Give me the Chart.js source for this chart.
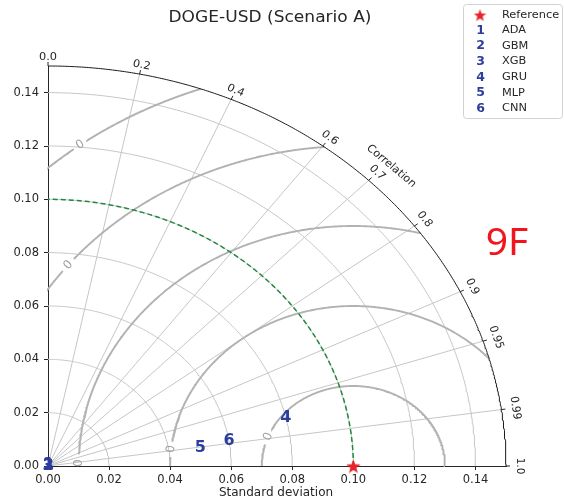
<!DOCTYPE html>
<html>
<head>
<meta charset="utf-8">
<script src="https://cdn.jsdelivr.net/npm/chart.js@4.4.1/dist/chart.umd.min.js"></script>
<style>
  html, body { margin: 0; padding: 0; background: #fff; }
  #wrap { width: 564px; height: 499px; }
</style>
</head>
<body>
<div id="wrap"><canvas id="chart" width="564" height="499"></canvas></div>
<script>
const title = 'DOGE-USD (Scenario A)';
const panelTag = '9F';
const modelNames = ['ADA', 'GBM', 'XGB', 'GRU', 'MLP', 'CNN'];
const modelStd = [0.0003, 0.0002, 0.0001, 0.0800, 0.0503, 0.0600];
const modelCorr = [0.50, 0.45, 0.40, 0.974, 0.991, 0.988];
const refStd = 0.10;
const stdMax = 0.15;
const stdTicks = [0, 0.02, 0.04, 0.06, 0.08, 0.10, 0.12, 0.14];
const stdRings = [0.02, 0.04, 0.06, 0.08, 0.10, 0.12, 0.14];
const corrTicks = [0.0, 0.2, 0.4, 0.6, 0.7, 0.8, 0.9, 0.95, 0.99, 1.0];
const corrTickLabels = ['0.0', '0.2', '0.4', '0.6', '0.7', '0.8', '0.9', '0.95', '0.99', '1.0'];
const corrGrid = [0.2, 0.4, 0.6, 0.7, 0.8, 0.9, 0.95, 0.99];
const rmsLevels = [0.03, 0.06, 0.09, 0.12, 0.15];
const rmsLabelDeg = [158.5, 173.9, 179.3, 141.1, 126.6];

const BLUE = '#2c3e9c';
const RED = '#e8232a';
const INK = '#262626';
const rad = d => d * Math.PI / 180;

Chart.defaults.font.family = 'DejaVu Sans';

function ringPoints(r, cx = 0, from = 0, to = Math.PI / 2, steps = 180) {
  const pts = [];
  for (let i = 0; i <= steps; i++) {
    const a = from + (to - from) * i / steps;
    pts.push({ x: cx + r * Math.cos(a), y: r * Math.sin(a) });
  }
  return pts;
}

// part of an RMS circle (around the reference) that stays inside the quarter disc
function rmsSpan(r) {
  let from = 0, to = Math.PI;
  if (refStd + r > stdMax) {
    const xi = (refStd * refStd - r * r + stdMax * stdMax) / (2 * refStd);
    from = Math.atan2(Math.sqrt(stdMax * stdMax - xi * xi), xi - refStd);
  }
  if (r > refStd) to = Math.acos(-refStd / r);
  return [from, to];
}

function rmsLabelPixel(chart, i) {
  const a = rad(rmsLabelDeg[i]), r = rmsLevels[i];
  return [chart.scales.x.getPixelForValue(refStd + r * Math.cos(a)),
          chart.scales.y.getPixelForValue(r * Math.sin(a))];
}

function nearLabel(ctx, i) {
  const [lx, ly] = rmsLabelPixel(ctx.chart, i);
  const mx = (ctx.p0.x + ctx.p1.x) / 2, my = (ctx.p0.y + ctx.p1.y) / 2;
  return Math.hypot(mx - lx, my - ly) < 8;
}

function starImage(size, color) {
  const c = document.createElement('canvas');
  c.width = c.height = size;
  const g = c.getContext('2d');
  const R = size / 2, r = R * 0.42;
  g.beginPath();
  for (let k = 0; k < 10; k++) {
    const rr = k % 2 ? r : R;
    const a = -Math.PI / 2 + k * Math.PI / 5;
    g.lineTo(R + rr * Math.cos(a), R + rr * Math.sin(a) + size * 0.06);
  }
  g.closePath();
  g.fillStyle = color;
  g.fill();
  return c;
}
const starPlot = starImage(15, RED);
const starLegend = starImage(13, RED);

function text(ctx, str, x, y, font, color, opts = {}) {
  ctx.save();
  ctx.translate(x, y);
  ctx.scale(opts.sx || 1, 1);
  ctx.rotate(opts.rot || 0);
  ctx.font = font;
  ctx.fillStyle = color;
  ctx.textAlign = opts.align || 'center';
  ctx.textBaseline = opts.base || 'middle';
  ctx.fillText(str, 0, 0);
  ctx.restore();
}

const line = (data, color, width, order, extra = {}) => Object.assign({
  data, showLine: true, pointRadius: 0, borderColor: color, borderWidth: width,
  order, clip: false, tension: 0, fill: false
}, extra);

const datasets = [];
stdRings.forEach(r => datasets.push(line(ringPoints(r), '#c6c6c6', 1, 6)));
corrGrid.forEach(c => datasets.push(line(
  [{ x: 0, y: 0 }, { x: stdMax * c, y: stdMax * Math.sqrt(1 - c * c) }], '#c6c6c6', 1, 6)));
rmsLevels.forEach((r, i) => {
  const [a0, a1] = rmsSpan(r);
  datasets.push(line(ringPoints(r, refStd, a0, a1, 300), '#b2b2b2', 1.9, 5, {
    segment: { borderColor: ctx => nearLabel(ctx, i) ? 'rgba(0,0,0,0)' : '#b2b2b2' }
  }));
});
datasets.push(line(ringPoints(refStd), '#1f8a3c', 1.5, 4, { borderDash: [5, 3] }));
datasets.push(line(ringPoints(stdMax, 0, 0, Math.PI / 2, 300), '#1a1a1a', 1, 3));
datasets.push({ data: [{ x: refStd, y: 0 }], pointStyle: starPlot, pointRadius: 7, order: 2, clip: false, showLine: false });
const modelSet = datasets.length;
datasets.push({
  data: modelStd.map((s, i) => ({ x: s * modelCorr[i], y: s * Math.sqrt(1 - modelCorr[i] ** 2) })),
  pointRadius: 0, showLine: false, order: 1, clip: false
});

const decor = {
  id: 'decor',
  afterDatasetsDraw(chart) {
    const { ctx, scales: { x, y } } = chart;
    const kx = x.getPixelForValue(1) - x.getPixelForValue(0);
    const ky = y.getPixelForValue(0) - y.getPixelForValue(1);

    // RMS contour labels, written along the curve
    rmsLevels.forEach((r, i) => {
      const a = rad(rmsLabelDeg[i]);
      const [lx, ly] = rmsLabelPixel(chart, i);
      let rot = Math.atan2(-Math.cos(a) * ky, -Math.sin(a) * kx);
      if (rot > Math.PI / 2) rot -= Math.PI;
      if (rot < -Math.PI / 2) rot += Math.PI;
      text(ctx, '0', lx, ly, '12px "DejaVu Sans"', '#a2a2a2', { rot });
    });

    // correlation ticks on the outer arc
    corrTicks.forEach((c, i) => {
      const th = Math.acos(c);
      const px = x.getPixelForValue(stdMax * c), py = y.getPixelForValue(stdMax * Math.sin(th));
      let ux = Math.cos(th) * kx, uy = -Math.sin(th) * ky;
      const n = Math.hypot(ux, uy); ux /= n; uy /= n;
      ctx.save();
      ctx.strokeStyle = INK; ctx.lineWidth = 1;
      ctx.beginPath(); ctx.moveTo(px, py); ctx.lineTo(px + 4 * ux, py + 4 * uy); ctx.stroke();
      ctx.restore();
      const d = 9 + 5 * c * c;
      text(ctx, corrTickLabels[i], px + d * ux, py + d * uy, '10.5px "DejaVu Sans"', INK,
        { rot: Math.PI / 2 - th, sx: 1.08 });
    });
    const ca = rad(45), cr = 0.159;
    text(ctx, 'Correlation', x.getPixelForValue(cr * Math.cos(ca)), y.getPixelForValue(cr * Math.sin(ca)),
      '10.5px "DejaVu Sans"', INK, { rot: rad(42), sx: 1.08 });

    // model numerals
    const meta = chart.getDatasetMeta(modelSet);
    meta.data.forEach((pt, i) => {
      text(ctx, String(i + 1), pt.x, pt.y, 'bold 16px "DejaVu Sans"', BLUE);
    });
  },
  afterDraw(chart) {
    const { ctx } = chart;
    text(ctx, title, 270, 18, '15.5px "DejaVu Sans"', INK, { sx: 1.1 });
    text(ctx, 'Standard deviation', 276, 493, '12px "DejaVu Sans"', INK);
    text(ctx, panelTag, 507, 255, '39px "Noto Sans"', '#f0151f', { base: 'alphabetic' });

    // legend
    ctx.save();
    ctx.fillStyle = 'rgba(255,255,255,0.9)';
    ctx.strokeStyle = '#d2d2d2';
    ctx.lineWidth = 1;
    ctx.beginPath();
    ctx.roundRect(463.5, 4.5, 99, 114, 3);
    ctx.fill(); ctx.stroke();
    ctx.drawImage(starLegend, 480 - 6.5, 15 - 6.5, 13, 13);
    ctx.restore();
    const rowY = [15, 30.5, 46, 61.7, 77.3, 93, 108.5];
    text(ctx, 'Reference', 502, rowY[0], '10.5px "DejaVu Sans"', INK, { align: 'left', sx: 1.08 });
    modelNames.forEach((name, i) => {
      text(ctx, String(i + 1), 480.5, rowY[i + 1], 'bold 12.5px "DejaVu Sans"', BLUE);
      text(ctx, name, 502, rowY[i + 1], '10.5px "DejaVu Sans"', INK, { align: 'left', sx: 1.08 });
    });
  }
};

const axis = (fit, pad) => ({
  type: 'linear', min: 0, max: stdMax,
  afterBuildTicks: s => { s.ticks = stdTicks.map(v => ({ value: v })); },
  afterFit: fit,
  grid: { drawOnChartArea: false, drawTicks: true, tickLength: 4, color: INK },
  border: { display: true, color: INK, width: 1 },
  ticks: { autoSkip: false, maxRotation: 0, color: INK, font: { size: 11.5 }, padding: pad,
           callback: v => v.toFixed(2) }
});

new Chart(document.getElementById('chart'), {
  type: 'scatter',
  data: { datasets },
  options: {
    responsive: false,
    animation: false,
    devicePixelRatio: 1,
    events: [],
    layout: { padding: { top: 66, right: 58, left: 0, bottom: 0 } },
    plugins: { legend: { display: false }, tooltip: { enabled: false } },
    scales: {
      x: axis(s => { s.height = 33; }, 3),
      y: axis(s => { s.width = 48; }, 5)
    }
  },
  plugins: [decor]
});
</script>
</body>
</html>
